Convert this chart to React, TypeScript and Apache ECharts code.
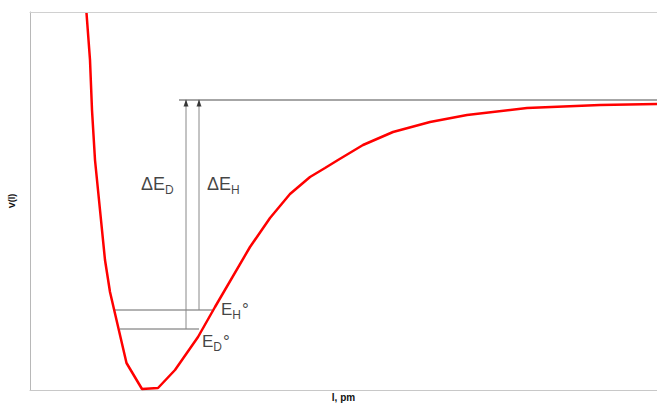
import React, { useEffect, useRef } from "react";
import * as echarts from "echarts";

// Potential curve (r offset, V offset)
const curveR = [56.5, 60, 62, 65, 70, 75, 80, 96.5, 112, 128, 145, 168, 185, 220, 240, 260, 280, 295, 308, 333, 363, 400, 437, 497, 570, 627];
const curveV = [377, 330, 280, 230, 180, 130, 98, 27, 1, 2, 20, 53, 83, 143, 172, 196, 213, 222, 230, 245, 258, 268, 275, 282, 285, 286];

// Zero-point energy levels
const levelY = [80, 61]; // E_H°, E_D°
const levelX0 = [83, 90];
const levelX1 = [182, 169];

// Dissociation arrows
const arrowX = [156, 169]; // ΔE_D, ΔE_H
const arrowY0 = [61, 80];
const asymptoteY = 290;
const asymptoteX0 = 149;

const xMax = 627;
const yMax = 378;

// Label anchor points
const labelX = [111, 177, 191, 172];
const labelY = [206, 206, 81, 49];
const labelText = ["{a|ΔE}{b|D}", "{a|ΔE}{b|H}", "{e|E}{b|H}{c|°}", "{e|E}{b|D}{c|°}"];

export default function App() {
  const ref = useRef<HTMLDivElement>(null);
  useEffect(() => {
    document.body.style.margin = "0";
    const chart = echarts.init(ref.current!, null, { renderer: "svg" });
    const font = "Arial, 'Liberation Sans', sans-serif";
    const ink = "#111";
    const series: any[] = [];
    // asymptote
    series.push({
      type: "line",
      data: [[asymptoteX0, asymptoteY], [xMax, asymptoteY]],
      symbol: "none",
      lineStyle: { color: "#a6a6a6", width: 2 },
      z: 2,
    });
    // energy levels
    levelY.forEach((y, i) => {
      series.push({
        type: "line",
        data: [[levelX0[i], y], [levelX1[i], y]],
        symbol: "none",
        lineStyle: { color: "#666", width: 1 },
        z: 2,
      });
    });
    // arrows
    arrowX.forEach((x, i) => {
      series.push({
        type: "line",
        data: [[x, arrowY0[i]], [x, asymptoteY]],
        symbol: "none",
        lineStyle: { color: "#888", width: 1 },
        z: 2,
      });
    });
    series.push({
      type: "scatter",
      data: arrowX.map((x) => [x, asymptoteY - 3]),
      symbol: "triangle",
      symbolSize: [5, 7],
      itemStyle: { color: "#111" },
      z: 3,
    });
    // curve
    series.push({
      type: "line",
      data: curveR.map((r, i) => [r, curveV[i]]),
      symbol: "none",
      smooth: false,
      lineStyle: { color: "#ff0000", width: 2.5 },
      z: 5,
    });
    // labels
    series.push({
      type: "scatter",
      symbolSize: 0,
      data: labelX.map((x, i) => ({ value: [x, labelY[i]], text: labelText[i] })),
      label: {
        show: true,
        position: "right",
        distance: 0,
        formatter: (p: any) => p.data.text,
        color: ink,
        fontFamily: font,
        rich: {
          a: { fontSize: 18, lineHeight: 20, fontFamily: font, color: ink },
          e: { fontSize: 17, lineHeight: 20, fontFamily: font, color: ink },
          b: { fontSize: 12, lineHeight: 14, padding: [12, 0, 0, 0], fontFamily: font, color: ink },
          c: { fontSize: 17, lineHeight: 20, padding: [0, 0, 0, 1], fontFamily: font, color: ink },
        },
      },
      z: 6,
    });

    chart.setOption({
      animation: false,
      grid: { left: 30, right: 0, top: 12, bottom: 15, containLabel: false, outerBoundsMode: "none" },
      xAxis: [
        {
          type: "value",
          min: 0,
          max: xMax,
          name: "l, pm",
          nameLocation: "middle",
          nameGap: 2,
          nameTextStyle: { fontSize: 10, lineHeight: 11, fontWeight: "bold", color: ink, fontFamily: font },
          axisLine: { show: true, lineStyle: { color: "#c8c8c8", width: 1 } },
          axisTick: { show: false },
          axisLabel: { show: false },
          splitLine: { show: false },
        },
        {
          type: "value",
          position: "top",
          min: 0,
          max: xMax,
          axisLine: { show: true, lineStyle: { color: "#d0d0d0", width: 1 } },
          axisTick: { show: false },
          axisLabel: { show: false },
          splitLine: { show: false },
        },
      ],
      yAxis: {
        type: "value",
        min: 0,
        max: yMax,
        name: "V(l)",
        nameLocation: "middle",
        nameGap: 14,
        nameRotate: 90,
        nameTextStyle: { fontSize: 9, fontWeight: "bold", color: ink, fontFamily: font },
        axisLine: { show: true, lineStyle: { color: "#b8b8b8", width: 1 } },
        axisTick: { show: false },
        axisLabel: { show: false },
        splitLine: { show: false },
      },
      series,
    });
    return () => chart.dispose();
  }, []);
  return <div ref={ref} style={{ width: 657, height: 405 }} />;
}
